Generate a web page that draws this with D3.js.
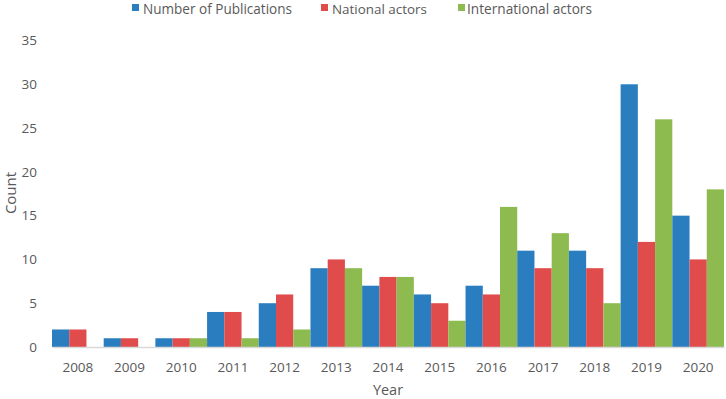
<!DOCTYPE html>
<html><head><meta charset="utf-8">
<script src="https://cdn.jsdelivr.net/npm/d3@7"></script>
<style>body{margin:0;background:#fff}svg{display:block}text{font-family:"Open Sans",sans-serif;fill:#595959}</style>
</head><body><svg id="c" width="726" height="399"></svg>
<script>
const years = ["2008","2009","2010","2011","2012","2013","2014","2015","2016","2017","2018","2019","2020"];
const publications = [2,1,1,4,5,9,7,6,7,11,11,30,15];
const nationalActors = [2,1,1,4,6,10,8,5,6,9,9,12,10];
const internationalActors = [0,0,1,1,2,9,8,3,16,13,5,26,18];
const seriesNames = ["Number of Publications","National actors","International actors"];
const yTicks = [0,5,10,15,20,25,30,35];
const colors = ["#2a7ec0","#e04c4c","#8dbb50"];
const seriesData = [publications, nationalActors, internationalActors];

const svg = d3.select("#c");
const m = {l:52, r:2};
const W = 726;
const x = d3.scaleBand().domain(years).range([m.l, W - m.r]).padding(0);
const xs = d3.scaleBand().domain(d3.range(3)).range([0, x.bandwidth()]).padding(0);
const y = d3.scaleLinear().domain([0,35]).range([347, 40.5]);

// bars
years.forEach((yr, i) => {
  seriesData.forEach((s, j) => {
    const v = s[i];
    svg.append("rect")
      .attr("x", x(yr) + xs(j))
      .attr("y", y(v))
      .attr("width", xs.bandwidth())
      .attr("height", y(0) - y(v))
      .attr("fill", colors[j]);
  });
});

// x axis
const xa = svg.append("g").attr("transform", `translate(0,${y(0)})`)
  .call(d3.axisBottom(x).tickSize(0).tickPadding(15));
xa.select(".domain").attr("stroke", "#d9d9d9").attr("stroke-width", 1.5);
xa.selectAll("text").style("font-size","13.5px").attr("fill","#595959");

// y axis
const ya = svg.append("g").attr("transform", `translate(${m.l},0)`)
  .call(d3.axisLeft(y).tickValues(yTicks).tickSize(0).tickPadding(15));
ya.select(".domain").remove();
ya.selectAll("text").style("font-size","13.5px").attr("fill","#595959");

// axis titles
svg.append("text").attr("x", 388).attr("y", 395).attr("text-anchor","middle")
  .style("font-size","14.5px").text("Year");
svg.append("text").attr("transform","translate(15.5,193) rotate(-90)").attr("text-anchor","middle")
  .style("font-size","15px").text("Count");

// legend
const legSq = [132, 321, 458];
const legTx = [143, 332, 467];
const legW = [149, 95, 125];
seriesNames.forEach((n, j) => {
  svg.append("rect").attr("x", legSq[j]).attr("y", 4).attr("width", 7).attr("height", 7).attr("fill", colors[j]);
  const t = svg.append("text").attr("x", legTx[j]).attr("y", 14).style("font-size","14.5px").text(n);
  const w = t.node().getComputedTextLength();
  if (w > 0) t.style("font-size", (14.5 * legW[j] / w).toFixed(2) + "px");
});
</script></body></html>
